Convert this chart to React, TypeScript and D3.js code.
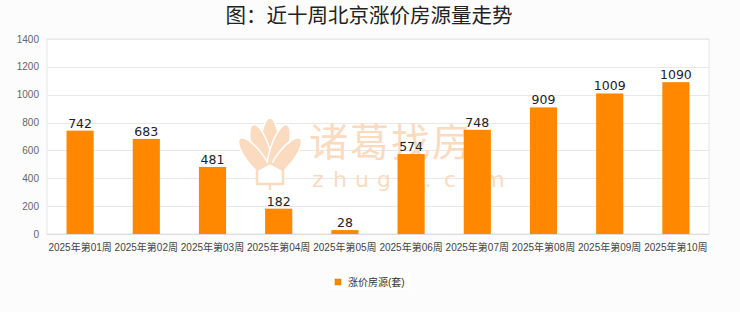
import React, { useEffect } from "react";
import * as d3 from "d3";

const categories = [
  "2025年第01周", "2025年第02周", "2025年第03周", "2025年第04周", "2025年第05周",
  "2025年第06周", "2025年第07周", "2025年第08周", "2025年第09周", "2025年第10周",
];
const values = [742, 683, 481, 182, 28, 574, 748, 909, 1009, 1090];
const yTicks = [0, 200, 400, 600, 800, 1000, 1200, 1400];
const title = "图：近十周北京涨价房源量走势";
const seriesName = "涨价房源(套)";
const watermarkCn = "诸葛找房";
const watermarkEn = "zhuge.com";

const W = 740, H = 312;
const M = { left: 47, right: 709, top: 39, bottom: 234 };
const BAR = "#ff8800";
const WM = "#fadbbf";

export default function App() {
  useEffect(() => {
    document.body.style.margin = "0";
  }, []);
  const x = d3.scaleBand<string>().domain(categories).range([M.left, M.right]).paddingInner(0.59).paddingOuter(0.295);
  const y = d3.scaleLinear().domain([0, 1400]).range([M.bottom, M.top]);
  const sans = "'Liberation Sans', 'Noto Sans CJK SC', sans-serif";

  // watermark logo petals
  const cx = 270;
  const petals = [
    { a: 0, len: 50, w: 9 },
    { a: -18, len: 46, w: 8.5 },
    { a: 18, len: 46, w: 8.5 },
    { a: -38, len: 40, w: 8 },
    { a: 38, len: 40, w: 8 },
  ];

  return (
    <svg width={W} height={H} style={{ display: "block", background: "#fcfcfc" }}>
      <rect x={0} y={0} width={W} height={H} fill="#fcfcfc" />
      <text x={369} y={23} textAnchor="middle" fontSize={20.5} fontFamily="'Noto Sans CJK SC', sans-serif" fontWeight={400} fill="#222">
        {title}
      </text>
      {/* plot background */}
      <rect x={M.left} y={M.top} width={M.right - M.left} height={M.bottom - M.top} fill="#ffffff" stroke="#e6e6e6" strokeWidth={1} />
      {yTicks.map((t) => (
        <g key={t}>
          <line x1={M.left} x2={M.right} y1={Math.round(y(t)) + 0.5} y2={Math.round(y(t)) + 0.5} stroke={t === 0 ? "#dcdcdc" : "#e8e8e8"} strokeWidth={1} />
          <text x={39} y={y(t)} dy="0.35em" textAnchor="end" fontSize={10} fontFamily={sans} fill="#666">
            {t}
          </text>
        </g>
      ))}
      {/* watermark */}
      <g fill={WM}>
        {petals.map((p, i) => (
          <ellipse
            key={i}
            cx={cx}
            cy={174 - p.len / 2 - 2}
            rx={p.w}
            ry={p.len / 2 + 4}
            transform={`rotate(${p.a} ${cx} 177)`}
            stroke="#ffffff"
            strokeWidth={1.5}
          />
        ))}
        <path d={`M${cx - 13},170 L${cx},163 L${cx + 13},170 L${cx + 13},184 L${cx - 13},184 Z`} fill="#ffffff" stroke={WM} strokeWidth={2.5} />
        <rect x={cx - 1.2} y={184} width={2.4} height={6} />
        <text x={309} y={156} fontSize={39} fontFamily="'Noto Sans CJK SC', sans-serif" fontWeight={400} letterSpacing={2}>
          {watermarkCn}
        </text>
        {watermarkEn.split("").map((c, i) => (
          <text key={i} x={318 + i * 22} y={187} textAnchor="middle" fontSize={22} fontFamily="'DejaVu Sans', sans-serif">
            {c}
          </text>
        ))}
      </g>
      {/* bars */}
      {values.map((v, i) => (
        <g key={categories[i]}>
          <rect x={x(categories[i])!} y={y(v)} width={x.bandwidth()} height={M.bottom - y(v)} fill={BAR} />
          <text x={x(categories[i])! + x.bandwidth() / 2} y={y(v) - 3} textAnchor="middle" fontSize={12.5} fontFamily="'DejaVu Sans', sans-serif" fill="#222">
            {v}
          </text>
        </g>
      ))}
      {categories.map((c) => (
        <text key={c} x={x(c)! + x.bandwidth() / 2} y={247} dy="0.35em" textAnchor="middle" fontSize={10} fontFamily={sans} fill="#444">
          {c}
        </text>
      ))}
      {/* legend */}
      <rect x={329} y={273} width={81} height={16} fill="#ffffff" />
      <rect x={335} y={279} width={6} height={6} fill={BAR} stroke="#d87000" strokeWidth={0.5} />
      <text x={348} y={282} dy="0.35em" fontSize={10} fontFamily={sans} fill="#333">
        {seriesName}
      </text>
    </svg>
  );
}
